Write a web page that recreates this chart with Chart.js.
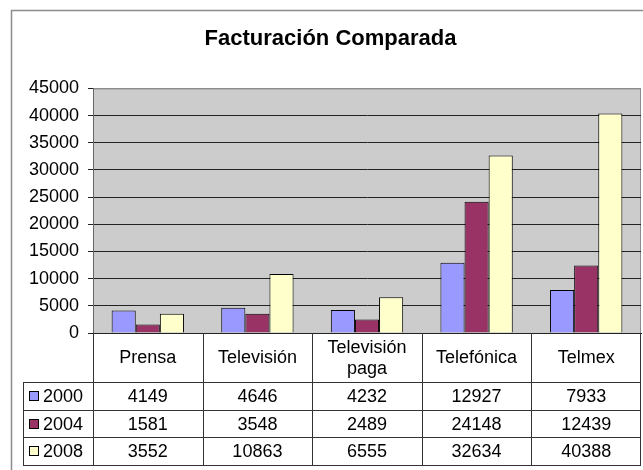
<!DOCTYPE html>
<html lang="es">
<head>
<meta charset="utf-8">
<title>Facturación Comparada</title>
<script src="https://cdn.jsdelivr.net/npm/chart.js@4.4.0/dist/chart.umd.min.js"></script>
<style>
	html, body { margin: 0; padding: 0; background: #fff; }
	#grafFacturacion { display: block; }
</style>
</head>
<body>
<canvas id="grafFacturacion" width="643" height="470"></canvas>
<script>
/*============ DATOS ============*/
const categorias = ["Prensa", "Televisión", ["Televisión", "paga"], "Telefónica", "Telmex"];
const series = ["2000", "2004", "2008"];
const valores2000 = [4149, 4646, 4232, 12927, 7933];
const valores2004 = [1581, 3548, 2489, 24148, 12439];
const valores2008 = [3552, 10863, 6555, 32634, 40388];
const ticksY = [0, 5000, 10000, 15000, 20000, 25000, 30000, 35000, 40000, 45000];
const colores = ["#9999FF", "#993366", "#FFFFCC"];

const fuente = "'Liberation Sans', Arial, sans-serif";

/*============ FONDO Y TABLA DE DATOS ============*/
const tablaDatos = {
	id: 'tablaDatos',
	beforeDraw(chart){
		const ctx = chart.ctx, a = chart.chartArea;
		ctx.save();
		ctx.fillStyle = '#fff';
		ctx.fillRect(0, 0, chart.width, chart.height);
		// marco exterior
		ctx.strokeStyle = '#8c8c8c';
		ctx.lineWidth = 1.5;
		ctx.strokeRect(11.5, 10.5, chart.width + 20, chart.height + 20);
		// area de trazado
		ctx.fillStyle = '#cccccc';
		ctx.fillRect(a.left, a.top, a.right - a.left, a.bottom - a.top);
		ctx.strokeStyle = '#8c8c8c';
		ctx.lineWidth = 1;
		ctx.strokeRect(a.left + .5, a.top + .5, a.right - a.left - 1, a.bottom - a.top);
		ctx.restore();
	},
	afterDraw(chart){
		const ctx = chart.ctx, a = chart.chartArea, x = chart.scales.x;
		const n = categorias.length;
		const paso = (a.right - a.left) / n;
		const altoCab = 49;
		const yFilas = a.bottom + altoCab, altoFila = 27.7;
		const yFin = yFilas + altoFila * series.length;
		const xLeyenda = 23;

		ctx.save();
		ctx.strokeStyle = '#333';
		ctx.lineWidth = 1;
		ctx.beginPath();
		for(let i = 0; i <= n; i++){
			const xx = Math.min(Math.round(x.getPixelForValue(i) - paso / 2) + .5, a.right - .5);
			ctx.moveTo(xx, a.bottom);
			ctx.lineTo(xx, yFin);
		}
		ctx.moveTo(xLeyenda + .5, yFilas);
		ctx.lineTo(xLeyenda + .5, yFin);
		for(let r = 0; r <= series.length; r++){
			const yy = Math.round(yFilas + r * altoFila) + .5;
			ctx.moveTo(xLeyenda, yy);
			ctx.lineTo(a.right, yy);
		}
		ctx.stroke();

		ctx.font = '18px ' + fuente;
		ctx.fillStyle = '#000';
		ctx.textBaseline = 'middle';
		ctx.textAlign = 'center';

		// encabezados de categoria
		chart.data.labels.forEach((lab, i) => {
			const lineas = [].concat(lab);
			const yc = a.bottom + altoCab / 2 + 1;
			const alto = 20.5;
			lineas.forEach((t, k) => {
				ctx.fillText(t, x.getPixelForValue(i), yc + (k - (lineas.length - 1) / 2) * alto);
			});
		});

		chart.data.datasets.forEach((ds, r) => {
			const yc = yFilas + r * altoFila + altoFila / 2;
			// clave de leyenda
			ctx.fillStyle = ds.backgroundColor;
			ctx.fillRect(29.5, Math.round(yc - 5) + .5, 9, 9);
			ctx.strokeStyle = '#000';
			ctx.strokeRect(29.5, Math.round(yc - 5) + .5, 9, 9);
			ctx.fillStyle = '#000';
			ctx.textAlign = 'left';
			ctx.fillText(ds.label, 43, yc + 1);
			ctx.textAlign = 'center';
			ds.data.forEach((v, i) => {
				ctx.fillText(String(v), x.getPixelForValue(i), yc + 1);
			});
		});
		ctx.restore();
	}
};

/*============ GRAFICA ============*/
const grafFact = document.getElementById('grafFacturacion').getContext('2d');
new Chart(grafFact, {
	type: 'bar',
	data: {
		labels: categorias,
		datasets: [
			{ label: series[0], data: valores2000, backgroundColor: colores[0] },
			{ label: series[1], data: valores2004, backgroundColor: colores[1] },
			{ label: series[2], data: valores2008, backgroundColor: colores[2] }
		].map(d => Object.assign(d, {
			borderColor: '#000',
			borderWidth: 1,
			categoryPercentage: 0.66,
			barPercentage: 1.0
		}))
	},
	options: {
		responsive: false,
		animation: false,
		devicePixelRatio: 1,
		layout: { padding: { left: 20, right: 2, top: 0, bottom: 0 } },
		plugins: {
			legend: { display: false },
			tooltip: { enabled: false },
			title: {
				display: true,
				text: 'Facturación Comparada',
				color: '#000',
				font: { family: fuente, size: 22, weight: 'bold', lineHeight: 1.2 },
				padding: { top: 26, bottom: 36 }
			}
		},
		scales: {
			x: {
				grid: { display: false, drawTicks: false },
				border: { color: '#222' },
				ticks: { display: false },
				afterFit: s => { s.height = 137; }
			},
			y: {
				min: 0,
				max: 45000,
				afterBuildTicks: s => { s.ticks = ticksY.map(v => ({ value: v })); },
				grid: {
					color: c => (c.tick && c.tick.value === 45000) ? '#8c8c8c' : '#222',
					tickColor: '#222',
					tickLength: 5
				},
				border: { color: '#666' },
				ticks: {
					color: '#000',
					font: { family: fuente, size: 18 },
					padding: 9,
					callback: v => String(v)
				},
				afterFit: s => { s.width = 73; }
			}
		}
	},
	plugins: [tablaDatos]
});
</script>
</body>
</html>
